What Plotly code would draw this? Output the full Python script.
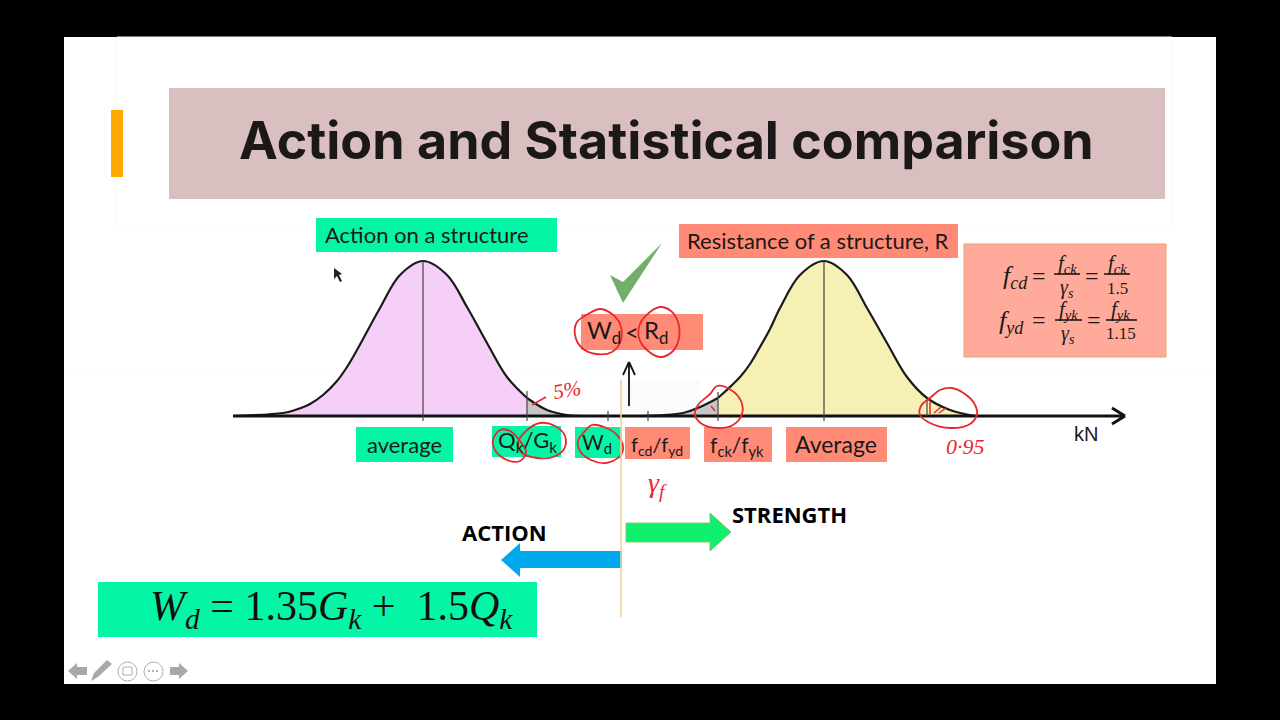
import plotly.graph_objects as go

# bell curves: pixel x and height above the axis
action_x = [233, 283, 295, 310, 323, 337, 347, 357, 380, 400, 423, 447, 467, 487, 507, 527]
action_h = [0, 3, 6, 12, 21, 35, 49, 66, 108, 141, 155, 141, 109, 73, 39, 18]
action_tail_x = [527, 547, 567, 587]
action_tail_h = [18, 6, 1, 0]

resist_tail_x = [640, 683, 700, 718]
resist_tail_h = [0, 3, 9, 18]
resist_x = [718, 740, 750, 760, 770, 780, 800, 824, 847, 867, 887, 907, 927, 950, 975]
resist_h = [18, 39, 52, 69, 87, 108, 141, 155, 141, 108, 73, 39, 18, 6, 0]

axis_x = [233, 1122]
axis_h = [0, 0]

# tick marks on the axis: x position, top and bottom height
tick_x = [423, 527, 608, 648, 718, 824, 927]
tick_top = [155, 25, 5, 5, 24, 155, 18]
tick_bottom = [-5, -5, -5, -5, -5, -5, 0]

# red pen loops from the presenter
ink_loops = {
    "wd_top": ([588, 577, 575, 582, 596, 612, 621, 620, 612, 600, 588],
               [314, 322, 335, 348, 354, 352, 340, 324, 314, 309, 314]),
    "rd_top": ([650, 640, 639, 647, 660, 673, 679, 678, 671, 660, 650],
               [312, 324, 338, 350, 357, 351, 338, 322, 311, 307, 312]),
    "fck": ([710, 698, 695, 702, 717, 733, 742, 741, 731, 717, 710],
            [394, 405, 415, 424, 428, 425, 414, 401, 390, 386, 394]),
    "tail": ([930, 921, 920, 930, 950, 970, 977, 974, 965, 952, 940, 930],
             [398, 406, 415, 423, 428, 424, 414, 403, 394, 388, 390, 398]),
    "wd_low": ([585, 578, 580, 591, 606, 620, 623, 616, 604, 592, 585],
               [431, 441, 451, 460, 463, 456, 446, 434, 427, 425, 431]),
    "qk": ([500, 493, 495, 507, 520, 526, 520, 510, 500],
           [430, 440, 450, 460, 461, 452, 441, 431, 430]),
    "gk": ([526, 518, 522, 537, 553, 564, 565, 555, 540, 526],
           [431, 443, 453, 458, 457, 449, 436, 426, 423, 431]),
}
ink_marks = {
    "dash": ([532, 546], [405, 397]),
    "hatch1": ([711, 715], [406, 411]),
    "hatch2": ([930, 930], [402, 414]),
    "hatch3": ([934, 941], [413, 407]),
    "hatch4": ([939, 946], [413, 408]),
}

GREEN = "#05f5a6"
SALMON = "#ff8a76"
RED = "#e8282e"
INK = "#1c1818"
BODY = "Lato"
MATH = "Liberation Serif"


def py(y):
    # slide pixels down from the top -> height above the axis line
    return 416 - y


def rect(x0, y0, x1, y1, color, line=None):
    return dict(type="rect", x0=x0, x1=x1, y0=py(y0), y1=py(y1), fillcolor=color,
                line=dict(color=line or color, width=1 if line else 0), layer="below")


def poly(points, color, line=None):
    path = "M " + " L ".join(f"{x},{py(y)}" for x, y in points) + " Z"
    return dict(type="path", path=path, fillcolor=color,
                line=dict(color=line or color, width=1 if line else 0), layer="below")


def seg(x0, y0, x1, y1, color, width=1.5):
    return dict(type="line", x0=x0, x1=x1, y0=py(y0), y1=py(y1),
                line=dict(color=color, width=width), layer="above")


def label(x, y, text, size=21, color=INK, family=BODY, angle=0):
    return dict(x=x, y=py(y), text=text, showarrow=False, xanchor="center", yanchor="middle",
                textangle=angle, font=dict(size=size, color=color, family=family))


fig = go.Figure()

fig.add_trace(go.Scatter(x=action_x, y=action_h, fill="tozeroy", fillcolor="#f6cff8",
                         line=dict(color="#1a1a1a", width=2.2, shape="spline")))
fig.add_trace(go.Scatter(x=action_tail_x, y=action_tail_h, fill="tozeroy", fillcolor="#c6c6c6",
                         line=dict(color="#1a1a1a", width=2.2, shape="spline")))
fig.add_trace(go.Scatter(x=resist_tail_x, y=resist_tail_h, fill="tozeroy", fillcolor="#c6c6c6",
                         line=dict(color="#1a1a1a", width=2.2, shape="spline")))
fig.add_trace(go.Scatter(x=resist_x, y=resist_h, fill="tozeroy", fillcolor="#f6f0b4",
                         line=dict(color="#1a1a1a", width=2.2, shape="spline")))
fig.add_trace(go.Scatter(x=axis_x, y=axis_h, line=dict(color="#111111", width=3)))

for x, top, bottom in zip(tick_x, tick_top, tick_bottom):
    fig.add_trace(go.Scatter(x=[x, x], y=[bottom, top], line=dict(color="#444444", width=1.2)))

for loop_x, loop_y in ink_loops.values():
    fig.add_trace(go.Scatter(x=loop_x, y=[py(v) for v in loop_y],
                             line=dict(color=RED, width=1.8, shape="spline")))
for mark_x, mark_y in ink_marks.values():
    fig.add_trace(go.Scatter(x=mark_x, y=[py(v) for v in mark_y], line=dict(color=RED, width=1.5)))

fig.update_traces(mode="lines", hoverinfo="skip", showlegend=False)

shapes = [
    rect(64, 37, 1216, 684, "#ffffff"),
    rect(117, 37, 1172, 227, "#ffffff", line="#f9f9f9"),
    rect(66, 372, 1216, 374, "#fcfcf9"),
    rect(622, 380, 700, 413, "#fbfbfe"),
    rect(169, 88, 1165, 199, "#d9bfbf"),
    rect(111, 110, 123, 177, "#ffa800"),
    rect(316, 218, 557, 252, GREEN),
    rect(679, 224, 958, 258, SALMON),
    rect(964, 244, 1166, 357, "#ffaa9a", line="#e2a870"),
    rect(581, 314, 703, 350, SALMON),
    rect(356, 427, 453, 462, GREEN),
    rect(492, 426, 561, 457, GREEN),
    rect(575, 427, 622, 458, GREEN),
    rect(625, 427, 690, 459, SALMON),
    rect(704, 427, 772, 462, SALMON),
    rect(786, 427, 887, 462, SALMON),
    rect(98, 582, 537, 637, GREEN),
    # check mark
    poly([(610, 275), (623, 282), (662, 243), (623, 303)], "#72ae6c"),
    # direction arrows
    poly([(626, 523), (710, 523), (710, 513), (731, 532), (710, 551), (710, 542), (626, 542)],
         "#0ff06e", line="#86c870"),
    poly([(622, 551), (520, 551), (520, 543), (501, 560), (520, 577), (520, 568), (622, 568)],
         "#00a9ee"),
    # mouse pointer
    poly([(334, 268), (334, 279), (337, 276), (340, 282), (342, 281), (339, 275), (342, 274)], "#222222"),
    # player controls bottom left
    poly([(68, 671), (77, 663), (77, 667), (87, 667), (87, 675), (77, 675), (77, 679)], "#a8a8a8"),
    poly([(91, 681), (94, 673), (107, 660), (112, 664), (98, 677)], "#a8a8a8"),
    poly([(188, 671), (179, 663), (179, 667), (170, 667), (170, 675), (179, 675), (179, 679)], "#a8a8a8"),
    dict(type="circle", x0=118, x1=137, y0=py(662), y1=py(681), fillcolor="#ffffff",
         line=dict(color="#b0b0b0", width=1), layer="below"),
    dict(type="circle", x0=144, x1=163, y0=py(662), y1=py(681), fillcolor="#ffffff",
         line=dict(color="#b0b0b0", width=1), layer="below"),
    rect(123, 667, 132, 675, "#ffffff", line="#b0b0b0"),
    rect(148, 670, 150, 672, "#b0b0b0"),
    rect(152, 670, 154, 672, "#b0b0b0"),
    rect(156, 670, 158, 672, "#b0b0b0"),
    # axis arrow head
    seg(1112, 408, 1125, 416, "#111111", 3),
    seg(1112, 424, 1125, 416, "#111111", 3),
    # limit line and the small up arrow
    seg(621, 380, 621, 617, "#eed596", 1.6),
    seg(629, 406, 629, 363, "#111111", 1.8),
    seg(623, 375, 629, 362, "#111111", 1.8),
    seg(635, 375, 629, 362, "#111111", 1.8),
    # fraction bars
    seg(1054, 274, 1080, 274, INK, 1.6),
    seg(1104, 274, 1130, 274, INK, 1.6),
    seg(1055, 320, 1082, 320, INK, 1.6),
    seg(1106, 320, 1137, 320, INK, 1.6),
]

annotations = [
    label(666, 140, "<b>Action and Statistical comparison</b>", size=52, family="Inter"),
    label(427, 234, "Action on a structure", size=22),
    label(818, 240, "Resistance of a structure, R", size=22),
    label(404, 444, "average", size=22),
    label(527, 441, "Q<sub>k</sub>/G<sub>k</sub>", size=22),
    label(597, 443, "W<sub>d</sub>", size=21),
    label(657, 445, "f<sub>cd</sub>/f<sub>yd</sub>", size=20),
    label(737, 446, "f<sub>ck</sub>/f<sub>yk</sub>", size=21),
    label(836, 444, "Average", size=23),
    label(1086, 434, "kN", size=20, family="Liberation Sans"),
    label(604, 331, "W<sub>d</sub>", size=24),
    label(632, 331, "&lt;", size=24),
    label(656, 331, "R<sub>d</sub>", size=24),
    label(504, 532, "<b>ACTION</b>", size=22, color="#000000", family="Open Sans"),
    label(789, 514, "<b>STRENGTH</b>", size=22, color="#000000", family="Open Sans"),
    label(331, 609, "<i>W<sub>d</sub></i> = 1.35<i>G<sub>k</sub></i> +  1.5<i>Q<sub>k</sub></i>",
          size=42, color="#111111", family=MATH),
    # formula box
    label(1015, 277, "<i>f<sub>cd</sub></i>", size=26, family=MATH),
    label(1039, 276, "=", size=24, family=MATH),
    label(1067, 264, "<i>f<sub>ck</sub></i>", size=21, family=MATH),
    label(1067, 288, "<i>γ<sub>s</sub></i>", size=20, family=MATH),
    label(1092, 276, "=", size=24, family=MATH),
    label(1117, 264, "<i>f<sub>ck</sub></i>", size=21, family=MATH),
    label(1117, 288, "1.5", size=17, family=MATH),
    label(1011, 322, "<i>f<sub>yd</sub></i>", size=26, family=MATH),
    label(1039, 320, "=", size=24, family=MATH),
    label(1068, 310, "<i>f<sub>yk</sub></i>", size=21, family=MATH),
    label(1068, 334, "<i>γ<sub>s</sub></i>", size=20, family=MATH),
    label(1094, 320, "=", size=24, family=MATH),
    label(1120, 310, "<i>f<sub>yk</sub></i>", size=21, family=MATH),
    label(1121, 333, "1.15", size=17, family=MATH),
    # handwriting
    label(567, 390, "<i>5%</i>", size=21, color=RED, family=MATH, angle=-10),
    label(965, 446, "<i>0·95</i>", size=22, color=RED, family=MATH),
    label(657, 484, "<i>γ<sub>f</sub></i>", size=28, color=RED, family=MATH),
]

fig.update_layout(
    width=1280,
    height=720,
    margin=dict(l=0, r=0, t=0, b=0),
    paper_bgcolor="#000000",
    plot_bgcolor="#000000",
    showlegend=False,
    hovermode=False,
    xaxis=dict(range=[0, 1280], visible=False, fixedrange=True),
    yaxis=dict(range=[py(720), py(0)], visible=False, fixedrange=True),
    shapes=shapes,
    annotations=annotations,
)

fig.write_html("out.html", config={"displayModeBar": False},
               post_script="document.body.style.margin='0';document.body.style.background='#000';")
